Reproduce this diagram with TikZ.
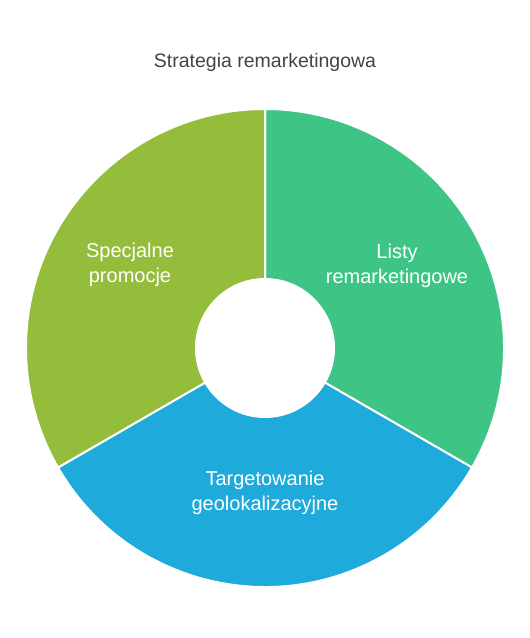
\documentclass[tikz,border=0pt]{standalone}
\usepackage{fontspec}
\setmainfont{Liberation Sans}
\definecolor{olive}{HTML}{95BD3C}
\definecolor{mint}{HTML}{3EC585}
\definecolor{sky}{HTML}{1EAADB}
\definecolor{titlegray}{HTML}{444444}
\begin{document}
\begin{tikzpicture}[x=1pt,y=1pt,
  seg/.style={draw=white,line width=2pt,line join=miter},
  lbl/.style={text=white,font=\fontsize{20}{25}\selectfont,align=center},
  ttl/.style={text=titlegray,font=\fontsize{19.5}{24}\selectfont}]
\useasboundingbox (0,0) rectangle (530,638);
\coordinate (c) at (265,290);
\path[seg,fill=mint] (c) -- ++(-30:239) arc[start angle=-30,end angle=90,radius=239] -- cycle;
\path[seg,fill=sky] (c) -- ++(210:239) arc[start angle=210,end angle=330,radius=239] -- cycle;
\path[seg,fill=olive] (c) -- ++(90:239) arc[start angle=90,end angle=210,radius=239] -- cycle;
\fill[white] (c) circle[radius=70];
\node[ttl] (title) at (265,576) {Strategia remarketingowa};
\node[lbl] (olab) at (130,373) {Specjalne\\promocje};
\node[lbl] (glab) at (397,372) {Listy\\remarketingowe};
\node[lbl] (blab) at (265,145) {Targetowanie\\geolokalizacyjne};
\end{tikzpicture}
\end{document}
